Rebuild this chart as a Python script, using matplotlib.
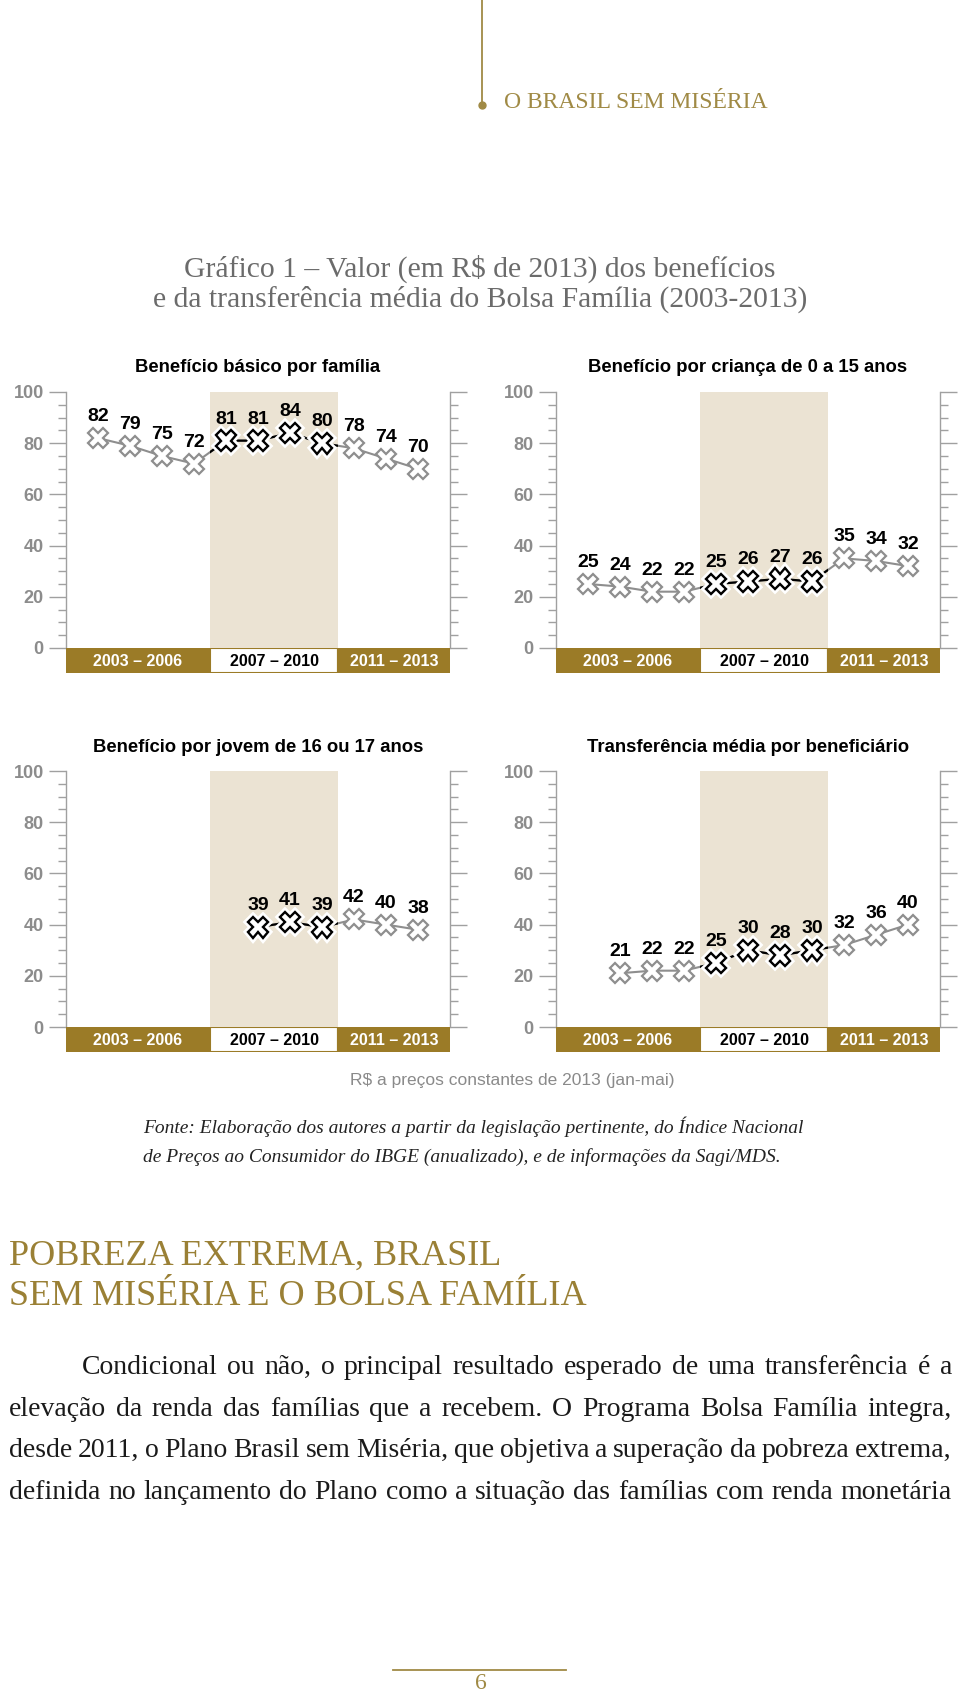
import matplotlib
matplotlib.use('Agg')
import matplotlib.pyplot as plt
import matplotlib.patheffects as pe
from matplotlib.lines import Line2D
from matplotlib.ticker import MultipleLocator
import numpy as np

# data
years = np.arange(2003, 2014)
nan = np.nan
titles = ['Benefício básico por família',
          'Benefício por criança de 0 a 15 anos',
          'Benefício por jovem de 16 ou 17 anos',
          'Transferência média por beneficiário']
basico = [82, 79, 75, 72, 81, 81, 84, 80, 78, 74, 70]
crianca = [25, 24, 22, 22, 25, 26, 27, 26, 35, 34, 32]
jovem = [nan, nan, nan, nan, nan, 39, 41, 39, 42, 40, 38]
transferencia = [nan, 21, 22, 22, 25, 30, 28, 30, 32, 36, 40]
series = [basico, crianca, jovem, transferencia]

period_labels = ['2003 – 2006', '2007 – 2010', '2011 – 2013']
period_start = [2003, 2007, 2011]
period_end = [2006, 2010, 2013]
highlight = 1  # period shown with the shaded band

yticks = [0, 20, 40, 60, 80, 100]

body_lines = [
    'Condicional ou não, o principal resultado esperado de uma transferência é a',
    'elevação da renda das famílias que a recebem. O Programa Bolsa Família integra,',
    'desde 2011, o Plano Brasil sem Miséria, que objetiva a superação da pobreza extrema,',
    'definida no lançamento do Plano como a situação das famílias com renda monetária',
]

# colours
GOLD = '#9b7b27'
GOLD_TXT = '#a08a45'
BAND = '#ebe3d3'
GRAY = '#8e8e8e'
TICK = '#a0a0a0'

W, H = 960, 1692
fig = plt.figure(figsize=(W / 100, H / 100), dpi=100)
fig.patch.set_facecolor('white')


def fx(x):
    return x / W


def fy(y):
    return 1 - y / H


SANS = 'Liberation Sans'
SERIF = 'Liberation Serif'

# panels (left px, top px)
panel_pos = [(66, 392), (556, 392), (66, 771), (556, 771)]
pw, ph, bh = 384, 256, 25
xmin, xmax = years[0] - 1, years[-1] + 1
band_lo = period_start[highlight] - 0.5
band_hi = period_end[highlight] + 0.5

for (l, t), vals, title in zip(panel_pos, series, titles):
    ax = fig.add_axes([fx(l), fy(t + ph), pw / W, ph / H])
    ax.set_xlim(xmin, xmax)
    ax.set_ylim(0, 100)
    band = ax.axvspan(band_lo, band_hi, color=BAND, lw=0, zorder=0)

    y = np.array(vals, dtype=float)
    ax.plot(years, y, color=GRAY, lw=1.5, zorder=2)
    blk, = ax.plot(years, y, color='black', lw=1.6, zorder=3)
    blk.set_clip_path(band)

    inside = (years >= period_start[highlight]) & (years <= period_end[highlight])
    ax.plot(years[~inside], y[~inside], ls='none', marker='X', ms=15,
            mfc='white', mec=GRAY, mew=1.6, zorder=4)
    ax.plot(years[inside], y[inside], ls='none', marker='X', ms=15,
            mfc='white', mec='black', mew=1.7, zorder=5,
            path_effects=[pe.withStroke(linewidth=5.5, foreground='white')])

    for xv, v in zip(years, y):
        if np.isnan(v):
            continue
        ax.annotate(f'{v:.0f}', (xv, v), xytext=(0, 15.5), textcoords='offset points',
                    ha='center', va='center', fontsize=14, fontweight='bold',
                    family=SANS, color='black', zorder=6)

    for s in ['top', 'bottom']:
        ax.spines[s].set_visible(False)
    for s in ['left', 'right']:
        ax.spines[s].set_color(TICK)
        ax.spines[s].set_linewidth(1)
    ax.set_xticks([])
    ax.set_yticks(yticks, [str(v) for v in yticks], fontweight='bold', family=SANS)
    ax.yaxis.set_minor_locator(MultipleLocator(5))
    ax.tick_params(axis='y', which='major', direction='out', length=12, width=1,
                   color=TICK, labelcolor='#8c8c8c', labelsize=13, pad=4,
                   left=True, right=True, labelright=False)
    ax.tick_params(axis='y', which='minor', direction='out', length=6, width=1,
                   color=TICK, left=True, right=True)
    ax.set_facecolor('none')

    fig.text(fx(l + pw / 2), fy(t - 24), title, ha='center', va='center',
             fontsize=13.3, fontweight='bold', family=SANS, color='black')

    # period bar under the axis
    bar = fig.add_axes([fx(l), fy(t + ph + bh), pw / W, bh / H])
    bar.set_xlim(xmin, xmax)
    bar.set_ylim(0, 1)
    bar.axis('off')
    edges = [xmin] + [s - 0.5 for s in period_start[1:]] + [xmax]
    for i, lab in enumerate(period_labels):
        hl = i == highlight
        bar.bar(edges[i], 1, width=edges[i + 1] - edges[i], align='edge',
                color='white' if hl else GOLD, edgecolor=GOLD, lw=1.5)
        bar.text((edges[i] + edges[i + 1]) / 2, 0.47, lab, ha='center', va='center',
                 fontsize=11.5, fontweight='bold', family=SANS,
                 color='black' if hl else 'white')

# header
fig.add_artist(Line2D([fx(482), fx(482)], [fy(0), fy(104)], color=GOLD_TXT, lw=1.3))
fig.add_artist(Line2D([fx(482)], [fy(105)], marker='o', ms=5, color=GOLD_TXT))
fig.text(fx(504), fy(108), 'O BRASIL SEM MISÉRIA', va='baseline', fontsize=17,
         family=SERIF, color=GOLD_TXT)

fig.text(fx(480), fy(269), 'Gráfico 1 – Valor (em R$ de 2013) dos benefícios',
         ha='center', va='center', fontsize=21.3, family=SERIF, color='#6b6b6b')
fig.text(fx(480), fy(299), 'e da transferência média do Bolsa Família (2003-2013)',
         ha='center', va='center', fontsize=21.3, family=SERIF, color='#6b6b6b')

fig.text(fx(512), fy(1080), 'R$ a preços constantes de 2013 (jan-mai)',
         ha='center', va='center', fontsize=12.5, family=SANS, color='#8a8a8a')

fig.text(fx(143), fy(1127), 'Fonte: Elaboração dos autores a partir da legislação pertinente, do Índice Nacional',
         va='center', fontsize=14, fontstyle='italic', family=SERIF, color='#222222')
fig.text(fx(143), fy(1157), 'de Preços ao Consumidor do IBGE (anualizado), e de informações da Sagi/MDS.',
         va='center', fontsize=14, fontstyle='italic', family=SERIF, color='#222222')

fig.text(fx(9), fy(1256), 'POBREZA EXTREMA, BRASIL', va='center', fontsize=26,
         family=SERIF, color='#9a8035')
fig.text(fx(9), fy(1296), 'SEM MISÉRIA E O BOLSA FAMÍLIA', va='center', fontsize=26,
         family=SERIF, color='#9a8035')

# justified body text
renderer = fig.canvas.get_renderer()


def justify(line, x0, x1, ybase):
    words = line.split()
    texts = [fig.text(0, fy(ybase), w, va='baseline', fontsize=20,
                      family=SERIF, color='#1a1a1a') for w in words]
    widths = [tx.get_window_extent(renderer).width for tx in texts]
    gap = (x1 - x0 - sum(widths)) / (len(words) - 1)
    x = x0
    for tx, w in zip(texts, widths):
        tx.set_x(fx(x))
        x += w + gap


for i, line in enumerate(body_lines):
    justify(line, 82 if i == 0 else 9, 952, 1374 + i * 41.5)

# page number
fig.add_artist(Line2D([fx(393), fx(566)], [fy(1670), fy(1670)], color=GOLD_TXT, lw=1.3))
fig.text(fx(481), fy(1689), '6', ha='center', va='baseline', fontsize=17,
         family=SERIF, color=GOLD_TXT)

fig.savefig('out.png', dpi=100, facecolor='white')
